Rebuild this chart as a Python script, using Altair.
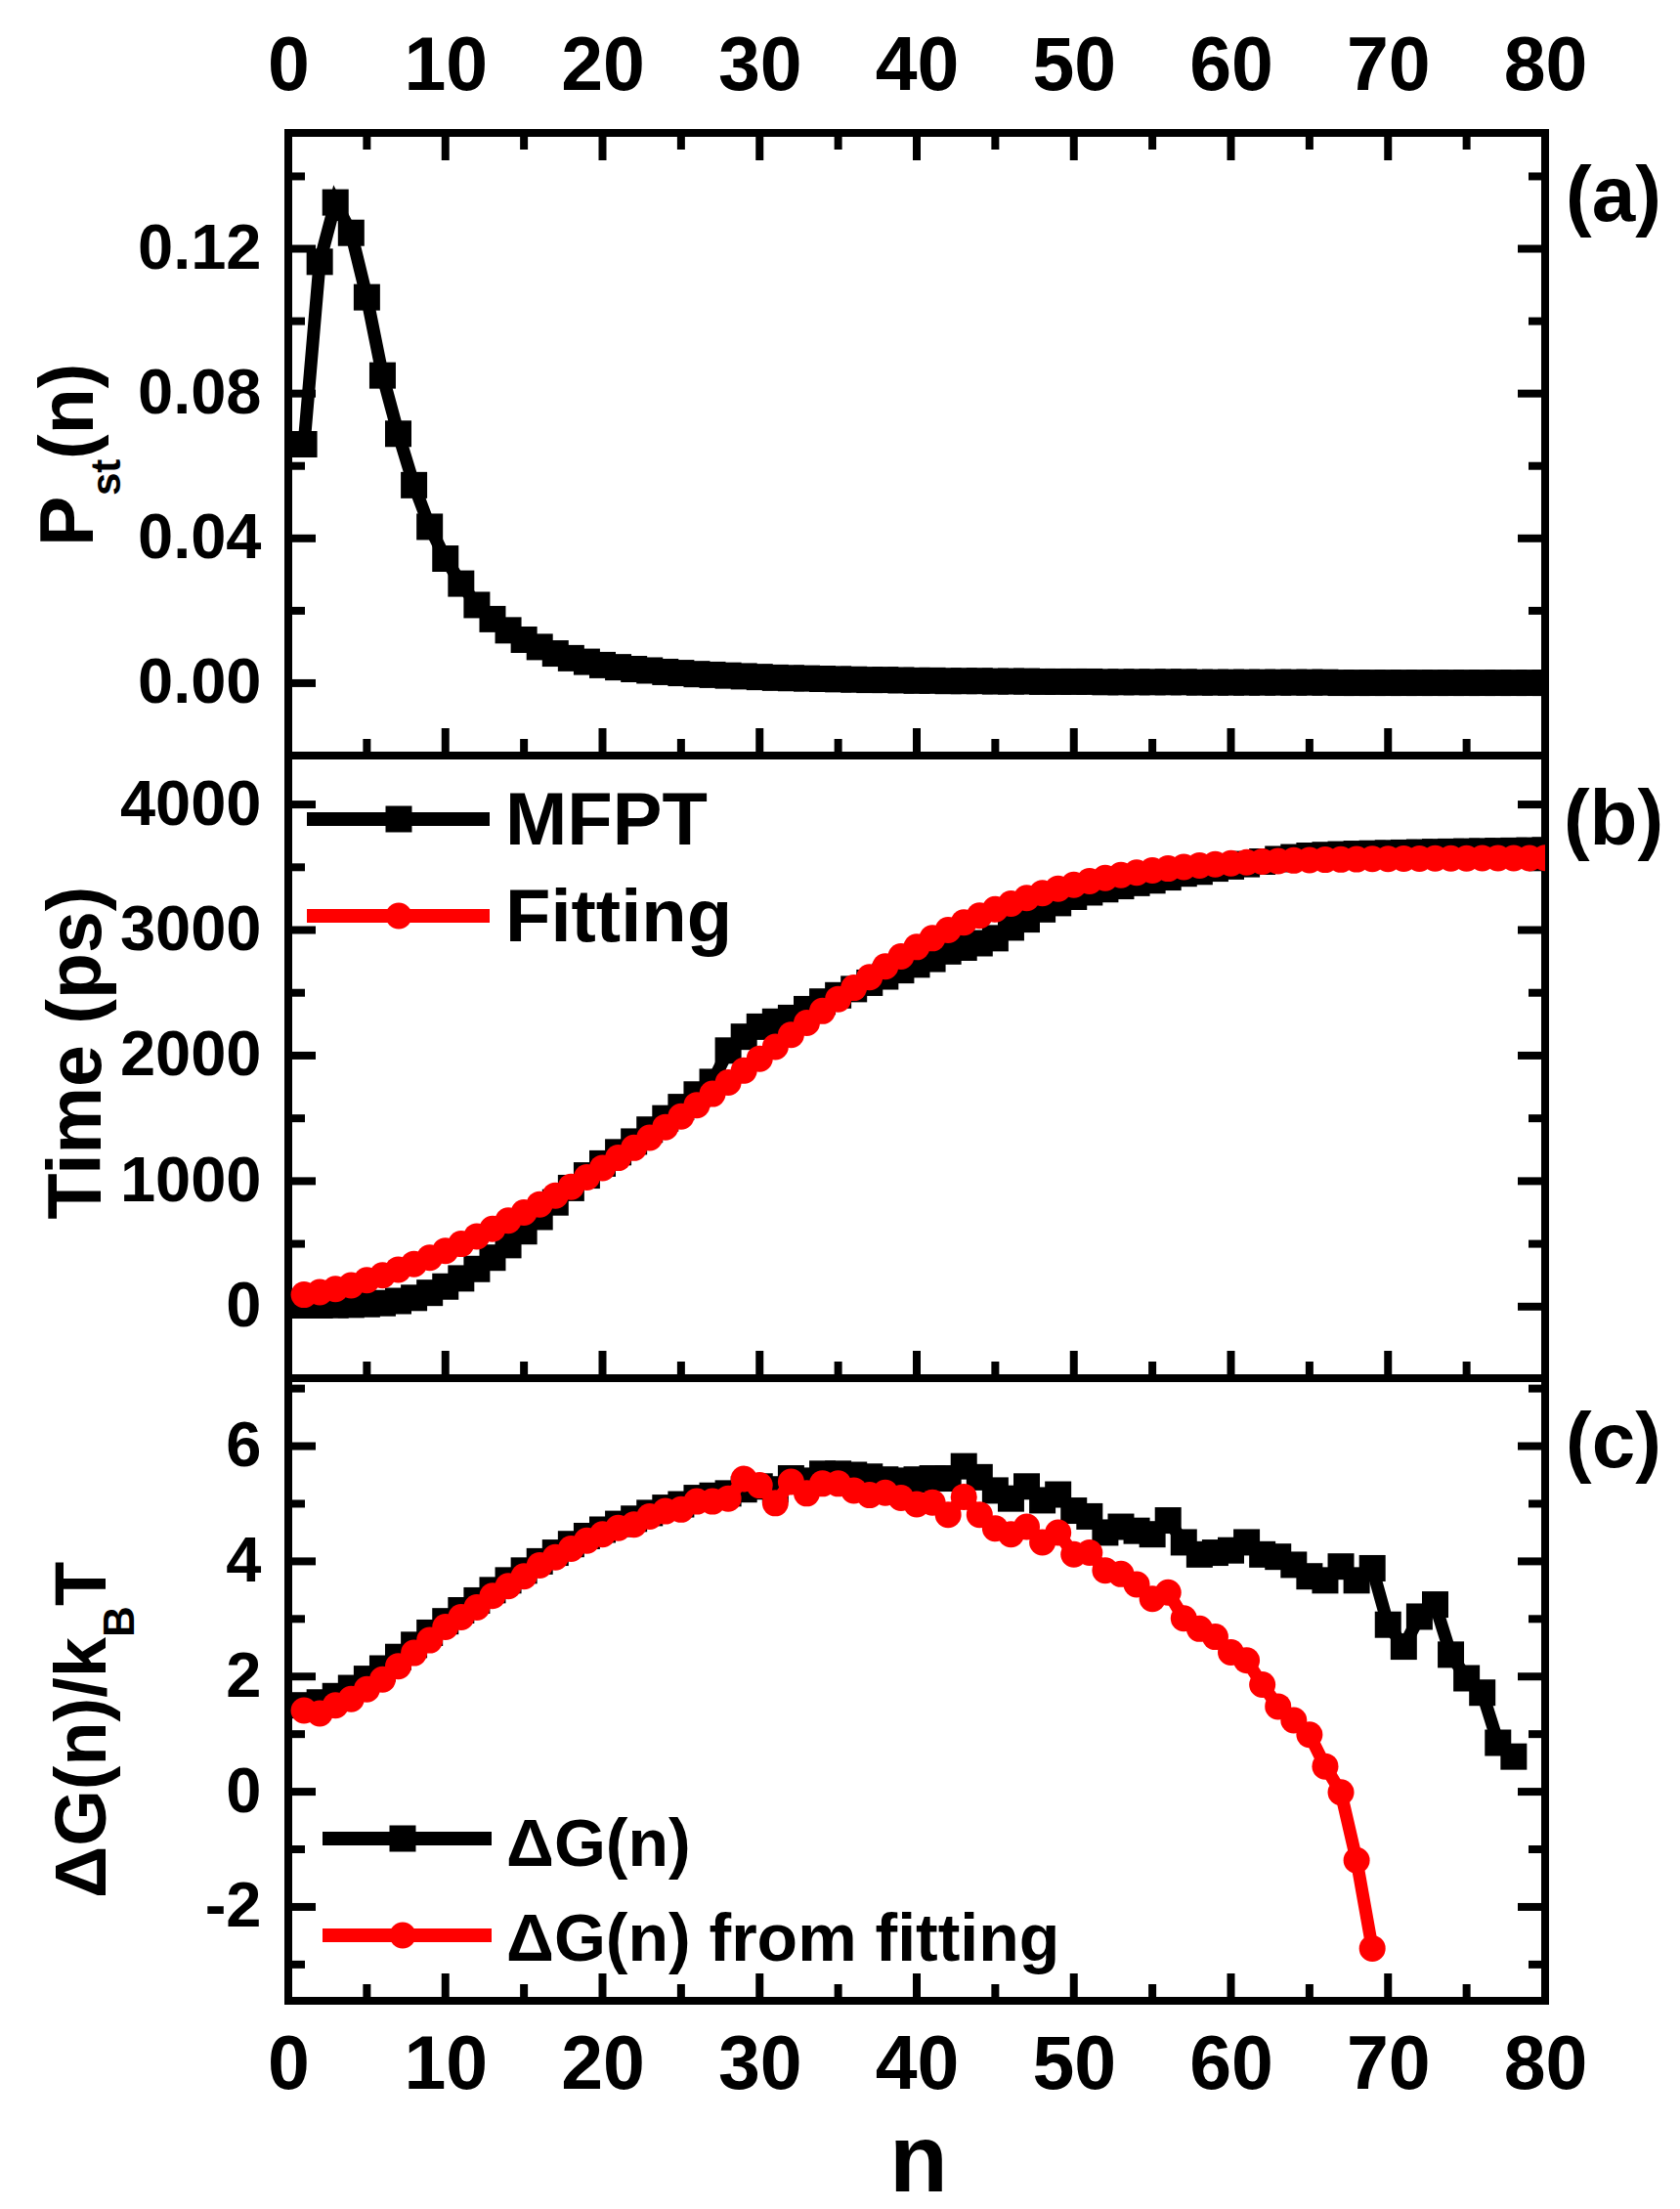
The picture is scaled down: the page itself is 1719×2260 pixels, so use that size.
import altair as alt
import pandas as pd

# ---------------- data ----------------
N_A = list(range(1, 81))
P_ST = [0.0660, 0.1164, 0.1328, 0.1244, 0.1066, 0.0850, 0.0689, 0.0547, 0.0432, 0.0344,
        0.0275, 0.0216, 0.0177, 0.0146, 0.0120, 0.0100, 0.0082, 0.0069, 0.0059, 0.0050,
        0.0044, 0.0039, 0.0035, 0.0031, 0.0028, 0.0025, 0.0023, 0.0021, 0.0019, 0.0017,
        0.0015, 0.0014, 0.0013, 0.0012, 0.0011, 0.0010, 0.0009, 0.0009, 0.0008, 0.0007,
        0.0007, 0.0006, 0.0006, 0.0006, 0.0005, 0.0005, 0.0005, 0.0004, 0.0004, 0.0004,
        0.0004, 0.0003, 0.0003, 0.0003, 0.0003, 0.0003, 0.0003, 0.0002, 0.0002, 0.0002,
        0.0002, 0.0002, 0.0002, 0.0002, 0.0002, 0.0002, 0.0001, 0.0001, 0.0001, 0.0001,
        0.0001, 0.0001, 0.0001, 0.0001, 0.0001, 0.0001, 0.0001, 0.0001, 0.0001, 0.0001]

N_B = list(range(1, 81))
MFPT = [10, 10, 12, 15, 20, 28, 45, 70, 110, 160,
        225, 300, 390, 490, 600, 715, 830, 945, 1045, 1140,
        1230, 1315, 1410, 1500, 1590, 1690, 1790, 2040, 2150, 2230,
        2270, 2300, 2370, 2430, 2480, 2530, 2580, 2630, 2680, 2725,
        2770, 2830, 2860, 2895, 2935, 3020, 3085, 3165, 3215, 3265,
        3300, 3325, 3350, 3375, 3395, 3420, 3450, 3465, 3490, 3507,
        3525, 3545, 3565, 3580, 3592, 3598, 3603, 3607, 3610, 3613,
        3616, 3619, 3622, 3624, 3626, 3628, 3630, 3632, 3634, 3636]
FIT_T = [95, 115, 140, 170, 210, 250, 295, 340, 390, 445,
         500, 560, 620, 685, 750, 815, 885, 955, 1030, 1105,
         1185, 1265, 1345, 1430, 1515, 1605, 1695, 1785, 1880, 1975,
         2070, 2165, 2260, 2355, 2450, 2540, 2625, 2710, 2790, 2865,
         2935, 3000, 3060, 3115, 3165, 3210, 3255, 3295, 3330, 3360,
         3390, 3415, 3438, 3458, 3475, 3490, 3503, 3514, 3524, 3532,
         3539, 3545, 3550, 3554, 3557, 3560, 3562, 3564, 3566, 3567,
         3568, 3569, 3570, 3571, 3571, 3572, 3572, 3573, 3573, 3574]

N_C1 = list(range(1, 79))
DG = [1.50, 1.55, 1.66, 1.80, 1.96, 2.14, 2.34, 2.55, 2.76, 2.96,
      3.15, 3.32, 3.50, 3.67, 3.84, 4.00, 4.15, 4.30, 4.44, 4.55,
      4.65, 4.74, 4.84, 4.93, 4.99, 5.10, 5.14, 5.18, 5.25, 5.30,
      5.25, 5.44, 5.40, 5.52, 5.52, 5.50, 5.47, 5.42, 5.40, 5.42,
      5.44, 5.44, 5.65, 5.46, 5.23, 5.09, 5.30, 5.06, 5.16, 4.88,
      4.78, 4.50, 4.60, 4.53, 4.47, 4.71, 4.33, 4.12, 4.15, 4.19,
      4.33, 4.12, 4.08, 3.94, 3.74, 3.67, 3.91, 3.67, 3.88, 2.90,
      2.52, 3.04, 3.25, 2.38, 1.97, 1.72, 0.85, 0.61]
N_C2 = list(range(1, 70))
DG_FIT = [1.41, 1.36, 1.50, 1.61, 1.78, 1.95, 2.18, 2.41, 2.63, 2.86,
          3.03, 3.20, 3.40, 3.57, 3.74, 3.93, 4.07, 4.22, 4.36, 4.47,
          4.58, 4.64, 4.78, 4.87, 4.90, 5.04, 5.04, 5.09, 5.43, 5.32,
          5.01, 5.38, 5.18, 5.35, 5.35, 5.23, 5.15, 5.19, 5.10, 4.99,
          5.02, 4.81, 5.12, 4.81, 4.57, 4.47, 4.60, 4.33, 4.50, 4.12,
          4.15, 3.84, 3.78, 3.60, 3.35, 3.46, 3.01, 2.83, 2.69, 2.42,
          2.28, 1.86, 1.48, 1.24, 0.99, 0.44, -0.01, -1.19, -2.72]

X_MAJOR = [0, 10, 20, 30, 40, 50, 60, 70, 80]
X_MINOR = [5, 15, 25, 35, 45, 55, 65, 75]
A_MAJOR = [0.0, 0.04, 0.08, 0.12]
A_MINOR = [0.02, 0.06, 0.10, 0.14]
B_MAJOR = [0, 1000, 2000, 3000, 4000]
B_MINOR = [500, 1500, 2500, 3500]
C_MAJOR = [-2, 0, 2, 4, 6]
C_MINOR = [-3, -1, 1, 3, 5, 7]

# ---------------- styling ----------------
FONT = "Liberation Sans, Arial, Helvetica, sans-serif"
W, H = 1286, 637
MAJ, MIN, TW = 28, 17, 8
LW = 13
SQ, CI = 729, 729
RED = "#ff0000"
one = pd.DataFrame({"k": [0]})
xs = alt.Scale(domain=[0, 80], nice=False, zero=False)


def yaxis(values, fmt=None, expr=None):
    kw = dict(values=values, labelFont=FONT, labelFontSize=65, labelFontWeight="bold",
              labelColor="black", labelPadding=28, labelOverlap=False, labelBound=False,
              labelFlush=False, ticks=False, tickSize=0, domain=False, grid=False, title=None)
    if fmt:
        kw["format"] = fmt
    if expr:
        kw["labelExpr"] = expr
    return alt.Axis(**kw)


def xaxis(orient, pad):
    return alt.Axis(orient=orient, values=X_MAJOR, format="d", labelFont=FONT, labelFontSize=77,
                    labelFontWeight="bold", labelColor="black", labelPadding=pad,
                    labelBaseline="alphabetic", labelFlush=False, labelOverlap=False,
                    labelBound=False, ticks=False, tickSize=0, domain=False, grid=False, title=None)


def txt(s, x, y, size, angle=0, align="left"):
    return alt.Chart(one).mark_text(text=s, font=FONT, fontSize=size, fontWeight="bold",
                                    color="black", align=align, baseline="alphabetic",
                                    angle=angle).encode(x=alt.value(x), y=alt.value(y))


def tick_layers(ymaj, ymin, ys, top, xax, yax):
    out = []
    for vals, L in ((X_MAJOR, MAJ), (X_MINOR, MIN)):
        d = pd.DataFrame({"t": vals})
        out.append(alt.Chart(d).mark_rule(color="black", strokeWidth=TW).encode(
            x=alt.X("t:Q", scale=xs, axis=xax), y=alt.value(H), y2=alt.value(H - L)))
        if top:
            out.append(alt.Chart(d).mark_rule(color="black", strokeWidth=TW).encode(
                x=alt.X("t:Q", scale=xs, axis=xax), y=alt.value(0), y2=alt.value(L)))
    for vals, L in ((ymaj, MAJ), (ymin, MIN)):
        d = pd.DataFrame({"t": vals})
        out.append(alt.Chart(d).mark_rule(color="black", strokeWidth=TW).encode(
            y=alt.Y("t:Q", scale=ys, axis=yax), x=alt.value(0), x2=alt.value(L)))
        out.append(alt.Chart(d).mark_rule(color="black", strokeWidth=TW).encode(
            y=alt.Y("t:Q", scale=ys, axis=yax), x=alt.value(W), x2=alt.value(W - L)))
    return out


def series(df, ys, color, shape, xax, yax):
    xe = alt.X("n:Q", scale=xs, axis=xax)
    ye = alt.Y("v:Q", scale=ys, axis=yax)
    line = alt.Chart(df).mark_line(color=color, strokeWidth=LW, clip=True).encode(x=xe, y=ye)
    if shape == "square":
        pts = alt.Chart(df).mark_point(shape="square", filled=True, size=SQ, color=color,
                                       opacity=1, strokeWidth=0, clip=True)
    else:
        pts = alt.Chart(df).mark_circle(size=CI, color=color, opacity=1, clip=True)
    return [line, pts.encode(x=xe, y=ye)]


def legend_item(x1, x2, xm, y, color, shape, label, tx, ty, fs):
    rule = alt.Chart(one).mark_rule(color=color, strokeWidth=14).encode(
        x=alt.value(x1), x2=alt.value(x2), y=alt.value(y))
    if shape == "square":
        m = alt.Chart(one).mark_point(shape="square", filled=True, size=SQ, color=color,
                                      opacity=1, strokeWidth=0)
    else:
        m = alt.Chart(one).mark_circle(size=CI, color=color, opacity=1)
    m = m.encode(x=alt.value(xm), y=alt.value(y))
    return [rule, m, txt(label, tx, ty, fs)]


# ---------------- panel (a) ----------------
ya = alt.Scale(domain=[-0.020, 0.152], nice=False, zero=False)
xa_ax = xaxis("top", 45)
ya_ax = yaxis(A_MAJOR, fmt=".2f")
dfa = pd.DataFrame({"n": N_A, "v": P_ST})
pa_layers = tick_layers(A_MAJOR, A_MINOR, ya, True, xa_ax, ya_ax)
pa_layers += series(dfa, ya, "black", "square", xa_ax, ya_ax)
pa_layers += [
    txt("P", -200, 423, 77, angle=270),
    txt("st", -172, 371, 42, angle=270),
    txt("(n)", -200, 334, 77, angle=270),
    txt("(a)", W + 70, 90, 80, align="center"),
    alt.Chart(one).mark_rule(color="white", strokeWidth=1).encode(
        x=alt.value(-282.5), x2=alt.value(-281.5), y=alt.value(-123), y2=alt.value(-122)),
]
pa = alt.layer(*pa_layers).properties(width=W, height=H)

# ---------------- panel (b) ----------------
yb = alt.Scale(domain=[-570, 4390], nice=False, zero=False)
yb_ax = yaxis(B_MAJOR, fmt="d")
dfb1 = pd.DataFrame({"n": N_B, "v": MFPT})
dfb2 = pd.DataFrame({"n": N_B, "v": FIT_T})
pb_layers = tick_layers(B_MAJOR, B_MINOR, yb, False, None, yb_ax)
pb_layers += series(dfb1, yb, "black", "square", None, yb_ax)
pb_layers += series(dfb2, yb, RED, "circle", None, yb_ax)
pb_layers += legend_item(19, 206, 113, 65, "black", "square", "MFPT", 222, 91, 76)
pb_layers += legend_item(19, 206, 113, 164, RED, "circle", "Fitting", 222, 190, 76)
pb_layers += [
    txt("Time (ps)", -192, 304, 77, angle=270, align="center"),
    txt("(b)", W + 70, 91, 80, align="center"),
]
pb = alt.layer(*pb_layers).properties(width=W, height=H)

# ---------------- panel (c) ----------------
yc = alt.Scale(domain=[-3.63, 7.18], nice=False, zero=False)
xc_ax = xaxis("bottom", 89)
yc_ax = yaxis(C_MAJOR, expr="replace(datum.label, '\u2212', '-')")
dfc1 = pd.DataFrame({"n": N_C1, "v": DG})
dfc2 = pd.DataFrame({"n": N_C2, "v": DG_FIT})
pc_layers = tick_layers(C_MAJOR, C_MINOR, yc, False, xc_ax, yc_ax)
pc_layers += series(dfc1, yc, "black", "square", xc_ax, yc_ax)
pc_layers += series(dfc2, yc, RED, "circle", xc_ax, yc_ax)
pc_layers += legend_item(35, 208, 117, 471, "black", "square", "\u0394G(n)", 223, 499, 68)
pc_layers += legend_item(35, 208, 117, 570, RED, "circle", "\u0394G(n) from fitting", 223, 596, 68)
pc_layers += [
    txt("\u0394G(n)/k", -187.5, 532, 74, angle=270),
    txt("B", -158.5, 265, 44, angle=270),
    txt("T", -187.5, 233, 74, angle=270),
    txt("(c)", W + 70, 91, 80, align="center"),
    txt("n", W / 2 + 2, H + 195, 98, align="center"),
]
pc = alt.layer(*pc_layers).properties(width=W, height=H)

chart = (alt.vconcat(pa, pb, pc, spacing=0, bounds="flush")
         .properties(padding=0)
         .configure_view(stroke="black", strokeWidth=8))

chart.save("out.html", embed_options={"renderer": "svg", "actions": False})
